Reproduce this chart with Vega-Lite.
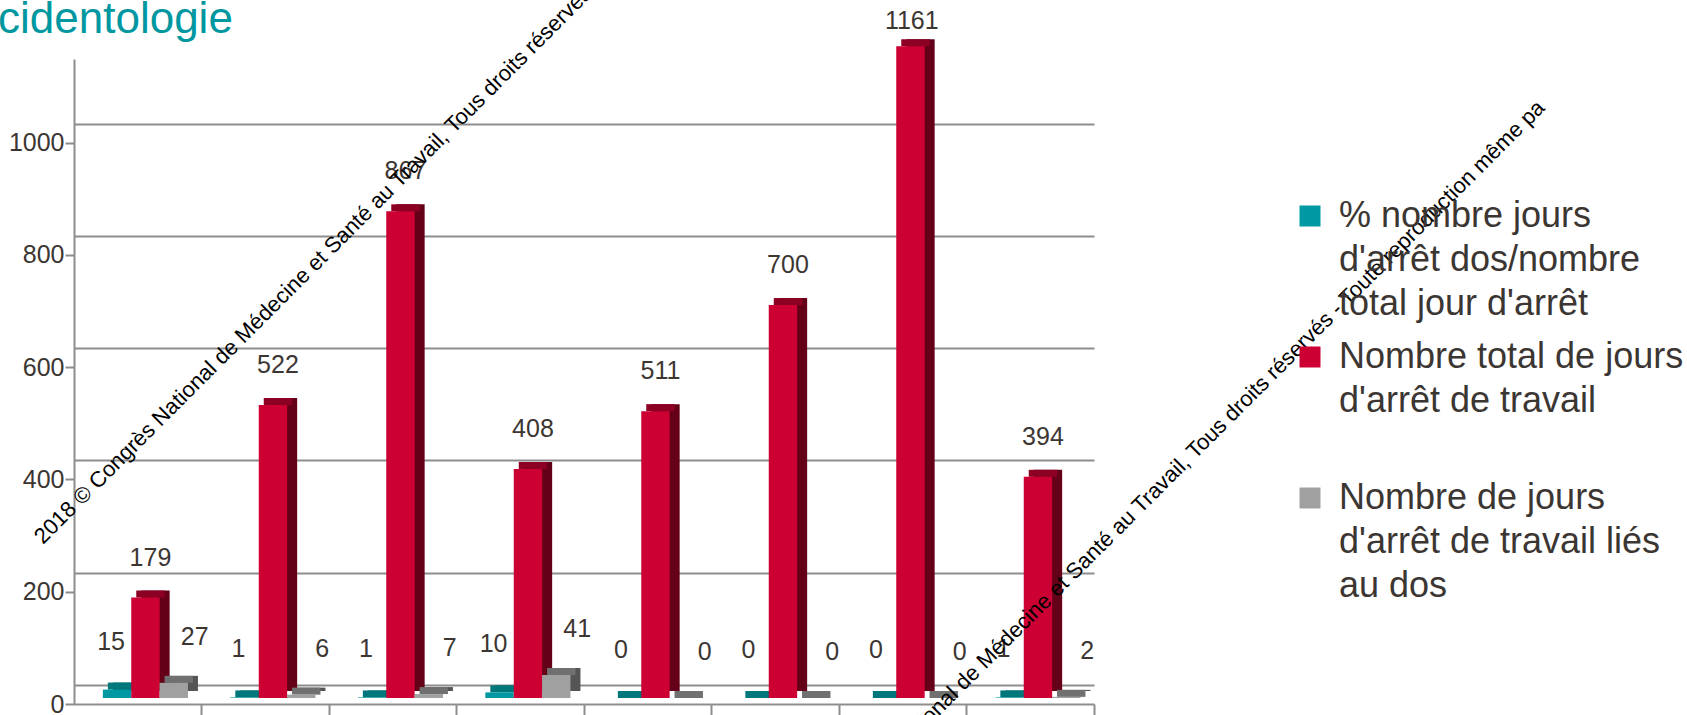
{
  "$schema": "https://vega.github.io/schema/vega-lite/v6.json",
  "width": 1020,
  "height": 645,
  "autosize": {"type": "none"},
  "padding": {"left": 74, "top": 59, "right": 593, "bottom": 11},
  "background": "#ffffff",
  "config": {"view": {"stroke": null}, "font": "Liberation Sans"},
  "title": {"text": "cidentologie", "anchor": "start", "frame": "group", "orient": "top", "fontSize": 44, "fontWeight": "normal", "color": "#0097a0", "font": "Liberation Sans", "baseline": "alphabetic", "offset": -95, "dx": -76},
  "data": {"values": [
    {"groupe": "G1", "serie": "% nombre jours d'arrêt dos/nombre total jour d'arrêt", "valeur": 15},
    {"groupe": "G1", "serie": "Nombre total de jours d'arrêt de travail", "valeur": 179},
    {"groupe": "G1", "serie": "Nombre de jours d'arrêt de travail liés au dos", "valeur": 27},
    {"groupe": "G2", "serie": "% nombre jours d'arrêt dos/nombre total jour d'arrêt", "valeur": 1},
    {"groupe": "G2", "serie": "Nombre total de jours d'arrêt de travail", "valeur": 522},
    {"groupe": "G2", "serie": "Nombre de jours d'arrêt de travail liés au dos", "valeur": 6},
    {"groupe": "G3", "serie": "% nombre jours d'arrêt dos/nombre total jour d'arrêt", "valeur": 1},
    {"groupe": "G3", "serie": "Nombre total de jours d'arrêt de travail", "valeur": 867},
    {"groupe": "G3", "serie": "Nombre de jours d'arrêt de travail liés au dos", "valeur": 7},
    {"groupe": "G4", "serie": "% nombre jours d'arrêt dos/nombre total jour d'arrêt", "valeur": 10},
    {"groupe": "G4", "serie": "Nombre total de jours d'arrêt de travail", "valeur": 408},
    {"groupe": "G4", "serie": "Nombre de jours d'arrêt de travail liés au dos", "valeur": 41},
    {"groupe": "G5", "serie": "% nombre jours d'arrêt dos/nombre total jour d'arrêt", "valeur": 0},
    {"groupe": "G5", "serie": "Nombre total de jours d'arrêt de travail", "valeur": 511},
    {"groupe": "G5", "serie": "Nombre de jours d'arrêt de travail liés au dos", "valeur": 0},
    {"groupe": "G6", "serie": "% nombre jours d'arrêt dos/nombre total jour d'arrêt", "valeur": 0},
    {"groupe": "G6", "serie": "Nombre total de jours d'arrêt de travail", "valeur": 700},
    {"groupe": "G6", "serie": "Nombre de jours d'arrêt de travail liés au dos", "valeur": 0},
    {"groupe": "G7", "serie": "% nombre jours d'arrêt dos/nombre total jour d'arrêt", "valeur": 0},
    {"groupe": "G7", "serie": "Nombre total de jours d'arrêt de travail", "valeur": 1161},
    {"groupe": "G7", "serie": "Nombre de jours d'arrêt de travail liés au dos", "valeur": 0},
    {"groupe": "G8", "serie": "% nombre jours d'arrêt dos/nombre total jour d'arrêt", "valeur": 1},
    {"groupe": "G8", "serie": "Nombre total de jours d'arrêt de travail", "valeur": 394},
    {"groupe": "G8", "serie": "Nombre de jours d'arrêt de travail liés au dos", "valeur": 2}
  ]},
  "encoding": {
    "x": {"field": "groupe", "type": "nominal", "scale": {"paddingInner": 0, "paddingOuter": 0},
      "axis": {"title": null, "labels": false, "ticks": true, "tickSize": 11, "tickColor": "#8d8d8d", "tickWidth": 2, "bandPosition": 1, "domainColor": "#8d8d8d", "domainWidth": 2, "grid": false}}
  },
  "layer": [
    {
      "mark": {"type": "point", "opacity": 0},
      "encoding": {
        "y": {"field": "valeur", "type": "quantitative", "scale": {"domain": [-33.8, 1115.2], "nice": false, "zero": false},
          "axis": {"orient": "right", "title": null, "labels": false, "ticks": false, "domain": false, "grid": true, "values": [0, 200, 400, 600, 800, 1000], "gridColor": "#8d8d8d", "gridWidth": 2}}
      }
    },
    {
      "encoding": {
        "y": {"field": "valeur", "type": "quantitative", "scale": {"domain": [0, 1149], "nice": false},
          "axis": {"title": null, "format": "d", "values": [0, 200, 400, 600, 800, 1000], "grid": false, "domainColor": "#8d8d8d", "domainWidth": 2, "tickColor": "#8d8d8d", "tickWidth": 2, "tickSize": 9, "labelFontSize": 25, "labelColor": "#3c3633", "labelPadding": 1, "labelFont": "Liberation Sans"}}
      },
      "layer": [
        {"transform": [{"filter": {"field": "serie", "equal": "% nombre jours d'arrêt dos/nombre total jour d'arrêt"}}],
         "mark": {"type": "bar", "width": 28.4, "xOffset": -10.7, "yOffset": -13, "y2Offset": -13, "color": "#006466"}},
        {"transform": [{"filter": {"field": "serie", "equal": "% nombre jours d'arrêt dos/nombre total jour d'arrêt"}}],
         "mark": {"type": "bar", "width": 28.4, "xOffset": -15.7, "yOffset": -13, "y2Offset": -6, "color": "#00777b"},
         "encoding": {"y2": {"field": "valeur"}}},
        {"transform": [{"filter": {"field": "serie", "equal": "% nombre jours d'arrêt dos/nombre total jour d'arrêt"}}],
         "mark": {"type": "bar", "width": 28.4, "xOffset": -20.7, "yOffset": -6, "y2Offset": -6},
         "encoding": {"color": {"field": "serie", "type": "nominal",
           "scale": {"domain": ["% nombre jours d'arrêt dos/nombre total jour d'arrêt", "Nombre total de jours d'arrêt de travail", "Nombre de jours d'arrêt de travail liés au dos"], "range": ["#0098a2", "#cc0033", "#a0a0a0"]},
           "legend": {"title": null, "orient": "none", "legendX": 1218, "legendY": 139, "padding": 0, "symbolType": "square", "symbolSize": 441, "symbolStrokeWidth": 0, "symbolOpacity": 1, "labelFontSize": 36, "labelFont": "Liberation Sans", "labelColor": "#3c3633", "labelLimit": 600, "labelOffset": 11, "rowPadding": 17,
             "labelExpr": "indexof(datum.label, '%') === 0 ? ['% nombre jours', \"d'arrêt dos/nombre\", \"total jour d'arrêt\"] : indexof(datum.label, 'Nombre total') === 0 ? ['Nombre total de jours', \"d'arrêt de travail\", ' '] : ['Nombre de jours', \"d'arrêt de travail liés\", 'au dos']",
             "encode": {"labels": {"update": {"lineHeight": {"value": 44}}}}}}}},
        {"transform": [{"filter": {"field": "serie", "equal": "Nombre total de jours d'arrêt de travail"}}],
         "mark": {"type": "bar", "width": 28.4, "xOffset": 17.7, "yOffset": -13, "y2Offset": -13, "color": "#650019"}},
        {"transform": [{"filter": {"field": "serie", "equal": "Nombre total de jours d'arrêt de travail"}}],
         "mark": {"type": "bar", "width": 28.4, "xOffset": 12.7, "yOffset": -13, "y2Offset": -6, "color": "#8c0024"},
         "encoding": {"y2": {"field": "valeur"}}},
        {"transform": [{"filter": {"field": "serie", "equal": "Nombre total de jours d'arrêt de travail"}}],
         "mark": {"type": "bar", "width": 28.4, "xOffset": 7.7, "yOffset": -6, "y2Offset": -6},
         "encoding": {"color": {"field": "serie", "type": "nominal",
           "scale": {"domain": ["% nombre jours d'arrêt dos/nombre total jour d'arrêt", "Nombre total de jours d'arrêt de travail", "Nombre de jours d'arrêt de travail liés au dos"], "range": ["#0098a2", "#cc0033", "#a0a0a0"]},
           "legend": {"title": null, "orient": "none", "legendX": 1218, "legendY": 139, "padding": 0, "symbolType": "square", "symbolSize": 441, "symbolStrokeWidth": 0, "symbolOpacity": 1, "labelFontSize": 36, "labelFont": "Liberation Sans", "labelColor": "#3c3633", "labelLimit": 600, "labelOffset": 11, "rowPadding": 17,
             "labelExpr": "indexof(datum.label, '%') === 0 ? ['% nombre jours', \"d'arrêt dos/nombre\", \"total jour d'arrêt\"] : indexof(datum.label, 'Nombre total') === 0 ? ['Nombre total de jours', \"d'arrêt de travail\", ' '] : ['Nombre de jours', \"d'arrêt de travail liés\", 'au dos']",
             "encode": {"labels": {"update": {"lineHeight": {"value": 44}}}}}}}},
        {"transform": [{"filter": {"field": "serie", "equal": "Nombre de jours d'arrêt de travail liés au dos"}}],
         "mark": {"type": "bar", "width": 28.4, "xOffset": 46, "yOffset": -13, "y2Offset": -13, "color": "#555555"}},
        {"transform": [{"filter": {"field": "serie", "equal": "Nombre de jours d'arrêt de travail liés au dos"}}],
         "mark": {"type": "bar", "width": 28.4, "xOffset": 41, "yOffset": -13, "y2Offset": -6, "color": "#707070"},
         "encoding": {"y2": {"field": "valeur"}}},
        {"transform": [{"filter": {"field": "serie", "equal": "Nombre de jours d'arrêt de travail liés au dos"}}],
         "mark": {"type": "bar", "width": 28.4, "xOffset": 36, "yOffset": -6, "y2Offset": -6},
         "encoding": {"color": {"field": "serie", "type": "nominal",
           "scale": {"domain": ["% nombre jours d'arrêt dos/nombre total jour d'arrêt", "Nombre total de jours d'arrêt de travail", "Nombre de jours d'arrêt de travail liés au dos"], "range": ["#0098a2", "#cc0033", "#a0a0a0"]},
           "legend": {"title": null, "orient": "none", "legendX": 1218, "legendY": 139, "padding": 0, "symbolType": "square", "symbolSize": 441, "symbolStrokeWidth": 0, "symbolOpacity": 1, "labelFontSize": 36, "labelFont": "Liberation Sans", "labelColor": "#3c3633", "labelLimit": 600, "labelOffset": 11, "rowPadding": 17,
             "labelExpr": "indexof(datum.label, '%') === 0 ? ['% nombre jours', \"d'arrêt dos/nombre\", \"total jour d'arrêt\"] : indexof(datum.label, 'Nombre total') === 0 ? ['Nombre total de jours', \"d'arrêt de travail\", ' '] : ['Nombre de jours', \"d'arrêt de travail liés\", 'au dos']",
             "encode": {"labels": {"update": {"lineHeight": {"value": 44}}}}}}}},
        {"transform": [{"filter": {"field": "serie", "equal": "% nombre jours d'arrêt dos/nombre total jour d'arrêt"}}],
         "mark": {"type": "text", "dx": -26.7, "dy": -54, "fontSize": 25, "color": "#3c3633", "baseline": "middle", "align": "center", "font": "Liberation Sans"},
         "encoding": {"text": {"field": "valeur", "type": "quantitative", "format": "d"}}},
        {"transform": [{"filter": {"field": "serie", "equal": "Nombre total de jours d'arrêt de travail"}}, {"filter": "datum.valeur < 1100"}],
         "mark": {"type": "text", "dx": 12.7, "dy": -46, "fontSize": 25, "color": "#3c3633", "baseline": "middle", "align": "center", "font": "Liberation Sans"},
         "encoding": {"text": {"field": "valeur", "type": "quantitative", "format": "d"}}},
        {"transform": [{"filter": {"field": "serie", "equal": "Nombre total de jours d'arrêt de travail"}}, {"filter": "datum.valeur >= 1100"}],
         "mark": {"type": "text", "dx": 9, "dy": -30.8, "fontSize": 25, "color": "#3c3633", "baseline": "middle", "align": "center", "font": "Liberation Sans"},
         "encoding": {"text": {"field": "valeur", "type": "quantitative", "format": "d"}}},
        {"transform": [{"filter": {"field": "serie", "equal": "Nombre de jours d'arrêt de travail liés au dos"}}],
         "mark": {"type": "text", "dx": 57, "dy": -52, "fontSize": 25, "color": "#3c3633", "baseline": "middle", "align": "center", "font": "Liberation Sans"},
         "encoding": {"text": {"field": "valeur", "type": "quantitative", "format": "d"}}},
        {"transform": [{"filter": {"field": "valeur", "equal": 179}}],
         "mark": {"type": "text", "angle": 315, "align": "left", "baseline": "alphabetic", "dx": -134, "fontSize": 22, "fill": "#000000", "font": "Liberation Sans"},
         "encoding": {"x": {"datum": "G1", "type": "nominal"}, "y": {"datum": 452, "type": "quantitative"}, "text": {"value": "2018 © Congrès National de Médecine et Santé au Travail, Tous droits réservés"}}},
        {"transform": [{"filter": {"field": "valeur", "equal": 394}}],
         "mark": {"type": "text", "angle": 315, "align": "right", "baseline": "alphabetic", "dx": 729.4, "fontSize": 22, "fill": "#000000", "font": "Liberation Sans"},
         "encoding": {"x": {"datum": "G8", "type": "nominal"}, "y": {"datum": 141, "type": "quantitative"}, "text": {"value": "2018 © Congrès National de Médecine et Santé au Travail, Tous droits réservés - Toute reproduction même pa"}}}
      ]
    }
  ],
  "resolve": {"scale": {"y": "independent"}, "axis": {"y": "independent"}}
}
